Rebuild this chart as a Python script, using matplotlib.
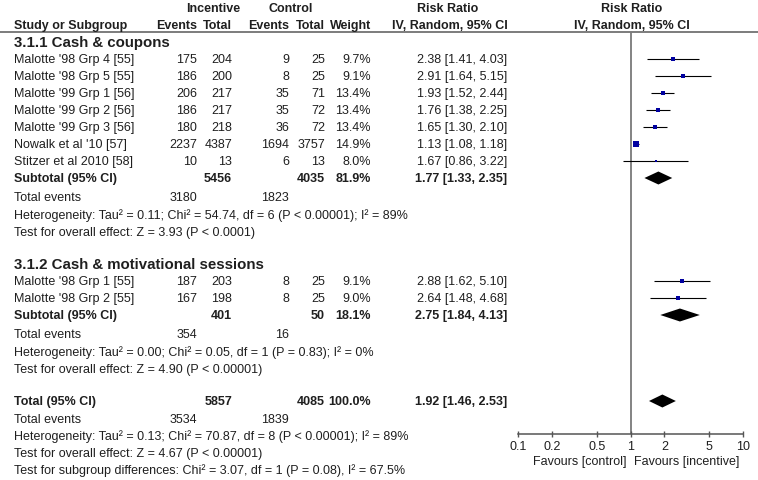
import matplotlib.pyplot as plt
from matplotlib.ticker import FixedLocator, FixedFormatter, NullLocator

plt.rcParams['font.family'] = ['Liberation Sans', 'DejaVu Sans']

# --- data ---
g1_title = "3.1.1 Cash & coupons"
g1_studies = ["Malotte '98 Grp 4 [55]", "Malotte '98 Grp 5 [55]", "Malotte '99 Grp 1 [56]",
              "Malotte '99 Grp 2 [56]", "Malotte '99 Grp 3 [56]", "Nowalk et al '10 [57]",
              "Stitzer et al 2010 [58]"]
g1_ev_inc = [175, 186, 206, 186, 180, 2237, 10]
g1_tot_inc = [204, 200, 217, 217, 218, 4387, 13]
g1_ev_ctl = [9, 8, 35, 35, 36, 1694, 6]
g1_tot_ctl = [25, 25, 71, 72, 72, 3757, 13]
g1_weight = [9.7, 9.1, 13.4, 13.4, 13.4, 14.9, 8.0]
g1_rr = [2.38, 2.91, 1.93, 1.76, 1.65, 1.13, 1.67]
g1_lo = [1.41, 1.64, 1.52, 1.38, 1.30, 1.08, 0.86]
g1_hi = [4.03, 5.15, 2.44, 2.25, 2.10, 1.18, 3.22]
g1_sub = [5456, 4035, 81.9, 1.77, 1.33, 2.35]      # tot_inc, tot_ctl, weight, rr, lo, hi
g1_events = [3180, 1823]
g1_het = "Heterogeneity: Tau² = 0.11; Chi² = 54.74, df = 6 (P < 0.00001); I² = 89%"
g1_test = "Test for overall effect: Z = 3.93 (P < 0.0001)"

g2_title = "3.1.2 Cash & motivational sessions"
g2_studies = ["Malotte '98 Grp 1 [55]", "Malotte '98 Grp 2 [55]"]
g2_ev_inc = [187, 167]
g2_tot_inc = [203, 198]
g2_ev_ctl = [8, 8]
g2_tot_ctl = [25, 25]
g2_weight = [9.1, 9.0]
g2_rr = [2.88, 2.64]
g2_lo = [1.62, 1.48]
g2_hi = [5.10, 4.68]
g2_sub = [401, 50, 18.1, 2.75, 1.84, 4.13]
g2_events = [354, 16]
g2_het = "Heterogeneity: Tau² = 0.00; Chi² = 0.05, df = 1 (P = 0.83); I² = 0%"
g2_test = "Test for overall effect: Z = 4.90 (P < 0.00001)"

total = [5857, 4085, 100.0, 1.92, 1.46, 2.53]
total_events = [3534, 1839]
total_het = "Heterogeneity: Tau² = 0.13; Chi² = 70.87, df = 8 (P < 0.00001); I² = 89%"
total_test = "Test for overall effect: Z = 4.67 (P < 0.00001)"
subgroup_test = "Test for subgroup differences: Chi² = 3.07, df = 1 (P = 0.08), I² = 67.5%"

ticks = [0.1, 0.2, 0.5, 1, 2, 5, 10]
tick_labels = ['0.1', '0.2', '0.5', '1', '2', '5', '10']

# --- layout (pixels) ---
W, H = 758, 481
fig = plt.figure(figsize=(W / 100, H / 100), dpi=100)
ax = fig.add_axes([0, 0, 1, 1])
ax.set_xlim(0, W)
ax.set_ylim(H, 0)
ax.axis('off')

fx = fig.add_axes([518 / W, 0, 225 / W, 1])
fx.set_xscale('log')
fx.set_xlim(0.1, 10)
fx.set_ylim(H, 0)
fx.set_facecolor('none')

TXT = '#1f1f1f'
FS = 9
x_name, x_ei, x_ti, x_ec, x_tc, x_w, x_rr = 14, 197, 232, 289, 325, 371, 507
axis_y = 435
step = 17

def txt(x, y, s, ha='left', bold=False, size=FS):
    ax.text(x, y, s, ha=ha, va='center', fontsize=size, color=TXT,
            fontweight='bold' if bold else 'normal')

# headers
txt(213, 9, 'Incentive', ha='center', bold=True)
txt(291, 9, 'Control', ha='center', bold=True)
txt(448, 9, 'Risk Ratio', ha='center', bold=True)
txt(632, 9, 'Risk Ratio', ha='center', bold=True)
txt(x_name, 26, 'Study or Subgroup', bold=True)
for x, s in [(x_ei, 'Events'), (x_ti, 'Total'), (x_ec, 'Events'), (x_tc, 'Total'), (x_w, 'Weight')]:
    txt(x, 26, s, ha='right', bold=True)
txt(450, 26, 'IV, Random, 95% CI', ha='center', bold=True)
txt(632, 26, 'IV, Random, 95% CI', ha='center', bold=True)
ax.axhline(33, color='#666666', lw=1.2)

def diamond(y, rr, lo, hi, h=6.5):
    fx.fill([lo, rr, hi, rr], [y, y - h, y, y + h], color='black', lw=0)

def group(y0, title, names, ei, ti, ec, tc, w, rr, lo, hi, sub, events, het, test):
    txt(x_name, y0, title, bold=True, size=10.8)
    ys = [y0 + step * (i + 1) for i in range(len(names))]
    for i, y in enumerate(ys):
        txt(x_name, y, names[i])
        txt(x_ei, y, str(ei[i]), ha='right')
        txt(x_ti, y, str(ti[i]), ha='right')
        txt(x_ec, y, str(ec[i]), ha='right')
        txt(x_tc, y, str(tc[i]), ha='right')
        txt(x_w, y, f'{w[i]:.1f}%', ha='right')
        txt(x_rr, y, f'{rr[i]:.2f} [{lo[i]:.2f}, {hi[i]:.2f}]', ha='right')
        fx.hlines(y, lo[i], hi[i], color='black', lw=0.8, zorder=2)
        fx.plot(rr[i], y, 's', ms=0.36 * w[i] * 0.72, color='#0000a0', mew=0, zorder=3)
    ys_sub = ys[-1] + step
    txt(x_name, ys_sub, 'Subtotal (95% CI)', bold=True)
    txt(x_ti, ys_sub, str(sub[0]), ha='right', bold=True)
    txt(x_tc, ys_sub, str(sub[1]), ha='right', bold=True)
    txt(x_w, ys_sub, f'{sub[2]:.1f}%', ha='right', bold=True)
    txt(x_rr, ys_sub, f'{sub[3]:.2f} [{sub[4]:.2f}, {sub[5]:.2f}]', ha='right', bold=True)
    diamond(ys_sub, sub[3], sub[4], sub[5])
    y = ys_sub + 19
    txt(x_name, y, 'Total events')
    txt(x_ei, y, str(events[0]), ha='right')
    txt(x_ec, y, str(events[1]), ha='right')
    txt(x_name, y + 18, het)
    txt(x_name, y + 35, test)
    return y + 35

end1 = group(43, g1_title, g1_studies, g1_ev_inc, g1_tot_inc, g1_ev_ctl, g1_tot_ctl,
             g1_weight, g1_rr, g1_lo, g1_hi, g1_sub, g1_events, g1_het, g1_test)
end2 = group(end1 + 32, g2_title, g2_studies, g2_ev_inc, g2_tot_inc, g2_ev_ctl, g2_tot_ctl,
             g2_weight, g2_rr, g2_lo, g2_hi, g2_sub, g2_events, g2_het, g2_test)

yt = end2 + 32
txt(x_name, yt, 'Total (95% CI)', bold=True)
txt(x_ti, yt, str(total[0]), ha='right', bold=True)
txt(x_tc, yt, str(total[1]), ha='right', bold=True)
txt(x_w, yt, f'{total[2]:.1f}%', ha='right', bold=True)
txt(x_rr, yt, f'{total[3]:.2f} [{total[4]:.2f}, {total[5]:.2f}]', ha='right', bold=True)
diamond(yt, total[3], total[4], total[5])
txt(x_name, yt + 18, 'Total events')
txt(x_ei, yt + 18, str(total_events[0]), ha='right')
txt(x_ec, yt + 18, str(total_events[1]), ha='right')
txt(x_name, yt + 35, total_het)
txt(x_name, yt + 52, total_test)
txt(x_name, yt + 69, subgroup_test)

# forest axis
fx.vlines(1, 33, axis_y, color='#7a7a7a', lw=1.3, zorder=1)
for s in ['left', 'right', 'top']:
    fx.spines[s].set_visible(False)
fx.spines['bottom'].set_position(('data', axis_y))
fx.spines['bottom'].set_color('#555555')
fx.spines['bottom'].set_linewidth(1.1)
fx.yaxis.set_major_locator(NullLocator())
fx.xaxis.set_major_locator(FixedLocator(ticks))
fx.xaxis.set_major_formatter(FixedFormatter(tick_labels))
fx.xaxis.set_minor_locator(NullLocator())
fx.tick_params(axis='x', direction='inout', length=5, width=1, color='#555555',
               labelsize=FS, labelcolor=TXT, pad=1.5)
fx.text(0.93, axis_y + 27, 'Favours [control]', ha='right', va='center', fontsize=FS, color=TXT)
fx.text(1.08, axis_y + 27, 'Favours [incentive]', ha='left', va='center', fontsize=FS, color=TXT)

fig.savefig('out.png', dpi=100)
